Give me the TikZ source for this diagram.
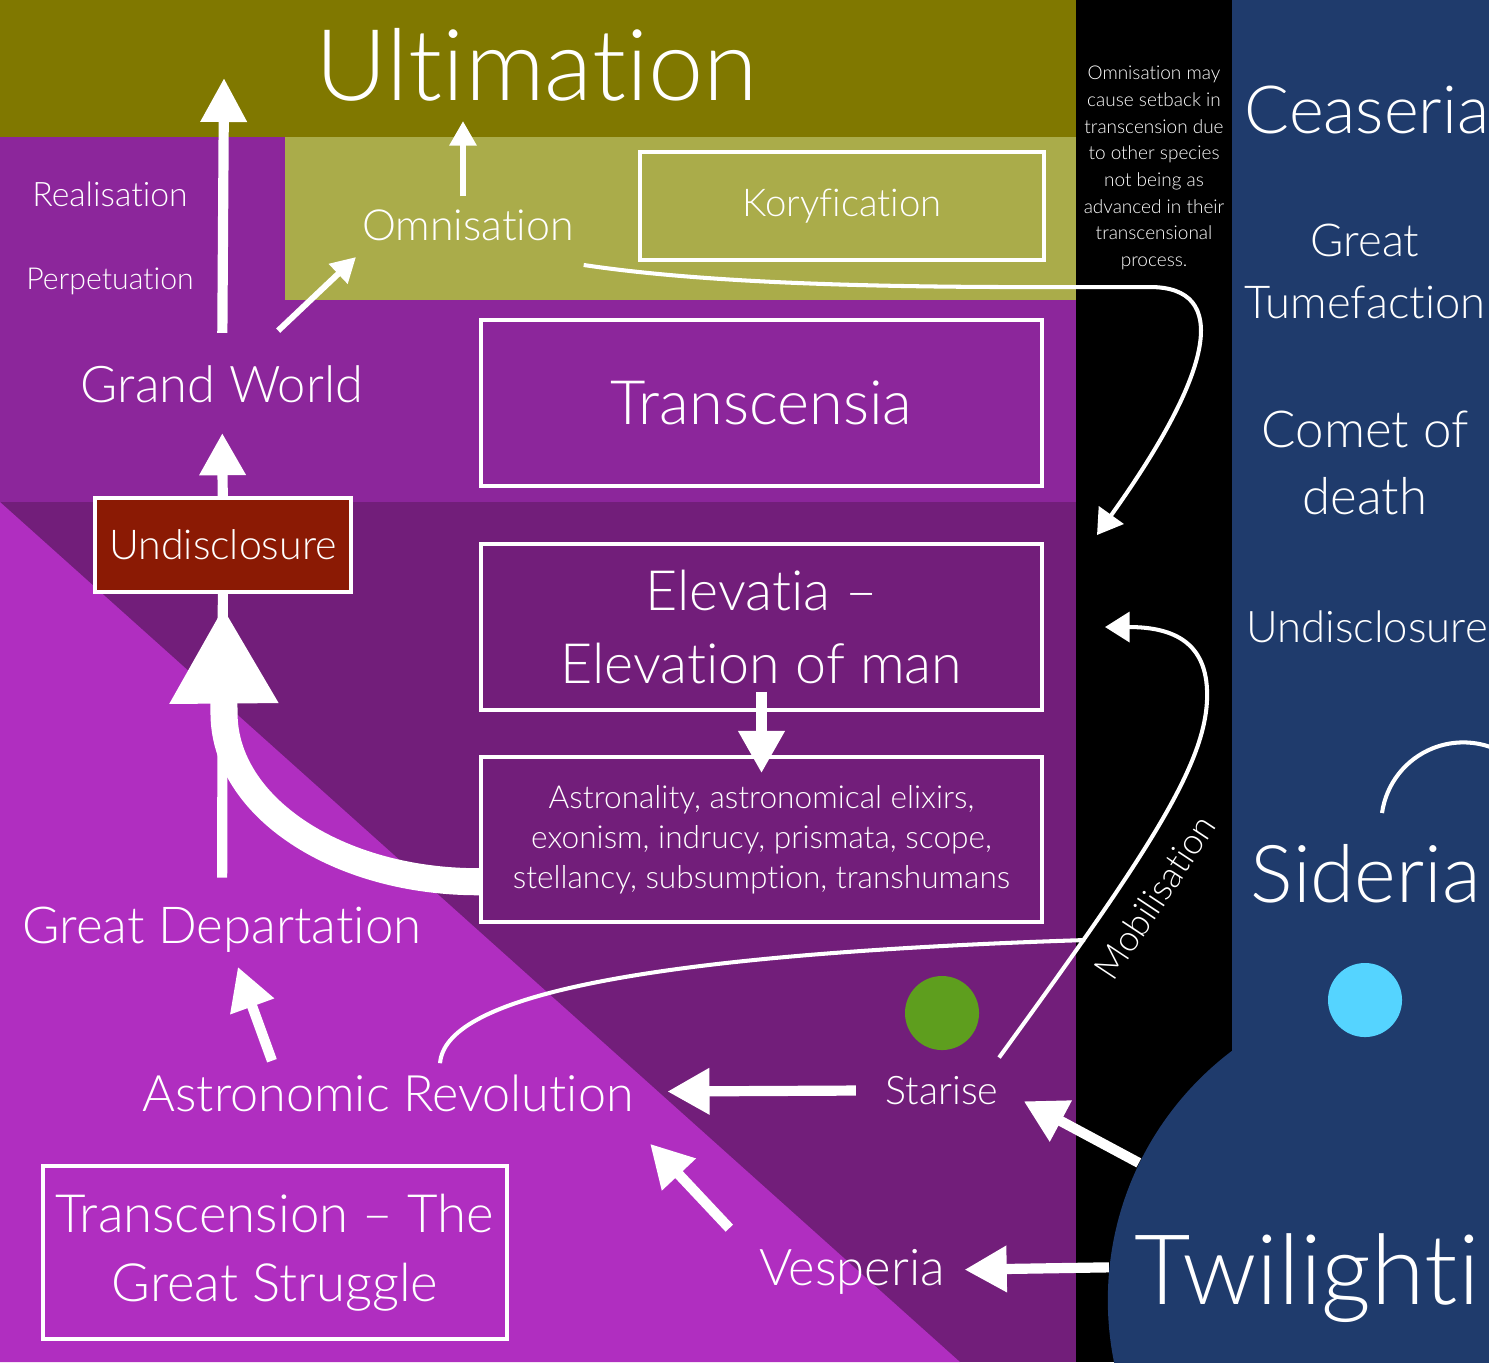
\documentclass[tikz,border=0pt]{standalone}
\usepackage{fontspec}
\IfFontExistsTF{Lato Light}
  {\setmainfont{Lato Light}[Ligatures={TeX,NoCommon}]}
  {\setmainfont{Lato}[Ligatures={TeX,NoCommon}]}
\usepackage{xcolor}
\usetikzlibrary{arrows.meta}

\definecolor{olivedark}{HTML}{807800}
\definecolor{olivelight}{HTML}{AAAC4A}
\definecolor{purp}{HTML}{8C269B}
\definecolor{purpdark}{HTML}{721E7A}
\definecolor{magent}{HTML}{B02EC0}
\definecolor{navy}{HTML}{1F3B6C}
\definecolor{rust}{HTML}{8B1A04}
\definecolor{leaf}{HTML}{5E9E1E}
\definecolor{sky}{HTML}{55D4FF}

\newcommand{\fsz}[2]{\fontsize{#1}{#2}\selectfont}

\begin{document}
\begin{tikzpicture}[x=0.01cm,y=-0.01cm,
  lab/.style={text=white,inner sep=0pt},
  box/.style={draw=white,line width=1pt,text=white,align=center,inner sep=0pt},
  fat/.style={white,line width=2.9pt,-{Triangle[width=12.5pt,length=12pt]}},
  stem/.style={white,line width=2.9pt},
  thin/.style={white,line width=1.7pt,-{Triangle[width=7.4pt,length=7pt]}},
  huge/.style={white,line width=7.7pt,-{Triangle[width=29pt,length=27.5pt]}},
  flow/.style={white,line width=1.15pt},
  flowtip/.style={flow,-{Triangle[width=8.5pt,length=7pt]}}]

\useasboundingbox (0,0) rectangle (1489,1362);

% bands
\fill[olivedark] (0,0) rectangle (1076,137);
\fill[purp] (0,137) rectangle (1076,502);
\fill[olivelight] (285,137) rectangle (1076,300);
\fill[purpdark] (0,502) rectangle (1076,1362);
\fill[magent] (0,502) -- (960,1362) -- (0,1362) -- cycle;
\fill[black] (1076,0) rectangle (1232,1362);
\fill[navy] (1232,0) rectangle (1489,1362);
\node[circle,fill=navy,minimum size=6.24cm,inner sep=0pt] (twi) at (1420,1300) {};

% left side
\node[lab,anchor=base,font=\fsz{28.2pt}{33pt}] (ult) at (537,100) {Ultimation};
\node[lab,anchor=base,font=\fsz{9.6pt}{11pt}] (real) at (110,206) {Realisation};
\node[lab,anchor=base,font=\fsz{8.6pt}{11pt}] (perp) at (110,289) {Perpetuation};
\node[lab,anchor=base,font=\fsz{12.2pt}{14pt}] (omni) at (468,240) {Omnisation};
\node[lab,anchor=base,font=\fsz{14.4pt}{17pt}] (gw) at (222,402) {Grand World};
\node[lab,anchor=base,font=\fsz{14.5pt}{17pt}] (gd) at (222,943) {Great Departation};
\node[lab,anchor=base,font=\fsz{14.3pt}{17pt}] (ar) at (388,1111) {Astronomic Revolution};
\node[lab,anchor=base,font=\fsz{11.2pt}{13pt}] (star) at (942,1104) {Starise};
\node[lab,anchor=base,font=\fsz{14.4pt}{17pt}] (vesp) at (852,1285) {Vesperia};

\node[box,minimum width=4.04cm,minimum height=1.08cm,font=\fsz{10.9pt}{13pt}] (kory) at (842,206) {Koryfication};
\node[box,minimum width=5.61cm,minimum height=1.66cm,font=\fsz{17.4pt}{20pt}] (trans) at (761.5,403) {Transcensia};
\node[box,minimum width=5.61cm,minimum height=1.66cm,font=\fsz{15.8pt}{20.5pt}] (elev) at (761.5,627) {Elevatia --\\Elevation of man};
\node[box,minimum width=5.61cm,minimum height=1.65cm,font=\fsz{9pt}{11.4pt}] (astro) at (761.5,839.5) {Astronality, astronomical elixirs,\\exonism, indrucy, prismata, scope,\\stellancy, subsumption, transhumans};
\node[box,fill=rust,minimum width=2.56cm,minimum height=0.94cm,font=\fsz{11.7pt}{14pt}] (undis) at (223,545) {Undisclosure};
\node[box,minimum width=4.64cm,minimum height=1.73cm,font=\fsz{15pt}{19.6pt}] (strug) at (275,1252.5) {Transcension -- The\\Great Struggle};

\node[circle,fill=leaf,minimum size=0.74cm,inner sep=0pt] (gdot) at (942,1013) {};

% right side
\node[lab,align=center,font=\fsz{5.4pt}{7.6pt}] (note) at (1154,168) {Omnisation may\\cause setback in\\transcension due\\to other species\\not being as\\advanced in their\\transcensional\\process.};
\node[lab,anchor=base,font=\fsz{18.9pt}{22pt}] (cea) at (1367,133) {Ceaseria};
\node[lab,align=center,font=\fsz{12.9pt}{17.6pt}] (tume) at (1365,271) {Great\\Tumefaction};
\node[lab,align=center,font=\fsz{14.5pt}{19pt}] (comet) at (1365,463) {Comet of\\death};
\node[lab,anchor=base,font=\fsz{12.4pt}{15pt}] (undr) at (1367,642) {Undisclosure};
\node[lab,anchor=base,font=\fsz{22.7pt}{27pt}] (sid) at (1366,902) {Sideria};
\node[circle,fill=sky,minimum size=0.74cm,inner sep=0pt] (cdot) at (1365,1000) {};
\node[lab,anchor=base,font=\fsz{27.7pt}{33pt}] (twil) at (1307,1304) {Twilighti};
\node[lab,rotate=56.5,font=\fsz{10.2pt}{12pt}] (mob) at (1155,897) {Mobilisation};

\coordinate (ulttip) at (224,78);
\coordinate (omnitip) at (463,121);
\coordinate (omnifoot) at (356,257);
\coordinate (setbacktip) at (1097,535);
\coordinate (mobtip) at (1105,627);
\coordinate (revend) at (1085,940);

% arrows
\draw[fat,-{Triangle[width=12.5pt,length=12.5pt]},shorten <=9pt] (gw) -- (ulttip);
\draw[fat,shorten >=8.5pt] (undis) -- (gw);
\draw[thin,shorten <=3.5pt] (omni.north -| omnitip) -- (omnitip);
\draw[thin,shorten <=14pt] (gw) -- (omnifoot);
\draw[stem,shorten <=8pt] (gd) -- (undis);
\draw[huge,shorten >=3.7pt] ([yshift=-12pt]astro.west) .. controls (338,882) and (224,807) .. (224,713) -- (undis.south);
\draw[fat,shorten <=-5.7pt,shorten >=-5.1pt] (elev) -- (astro);
\draw[fat] ([xshift=-33pt,yshift=3.7pt]ar.north) -- ([xshift=4.5pt,yshift=-4pt]gd.south);
\draw[fat,shorten <=8.3pt,shorten >=9.4pt] (star) -- (ar);
\draw[fat] ([xshift=-8.3pt,yshift=5.7pt]vesp.north west) -- ([xshift=4.5pt,yshift=-9pt]ar.south east);
\draw[fat] (twi.154) -- ([xshift=7pt,yshift=1.1pt]star.south east);
\draw[fat,shorten >=5.4pt] (twi.174) -- (vesp);

\draw[flowtip] ([xshift=2.6pt,yshift=-6.8pt]omni.south east) .. controls (750,290) and (1000,287) .. (1150,287) .. controls (1230,287) and (1215,370) .. (setbacktip);
\draw[flowtip] ([yshift=5pt]star.north east) .. controls (1150,850) and (1210,760) .. (1207,690) .. controls (1205,640) and (1170,627) .. (mobtip);
\draw[flow] ([xshift=14.8pt,yshift=3pt]ar.north) .. controls (445,1000) and (620,955) .. (revend);
\draw[flow] (1382,813) arc[start angle=172,end angle=70,radius=0.82cm];

\end{tikzpicture}
\end{document}
